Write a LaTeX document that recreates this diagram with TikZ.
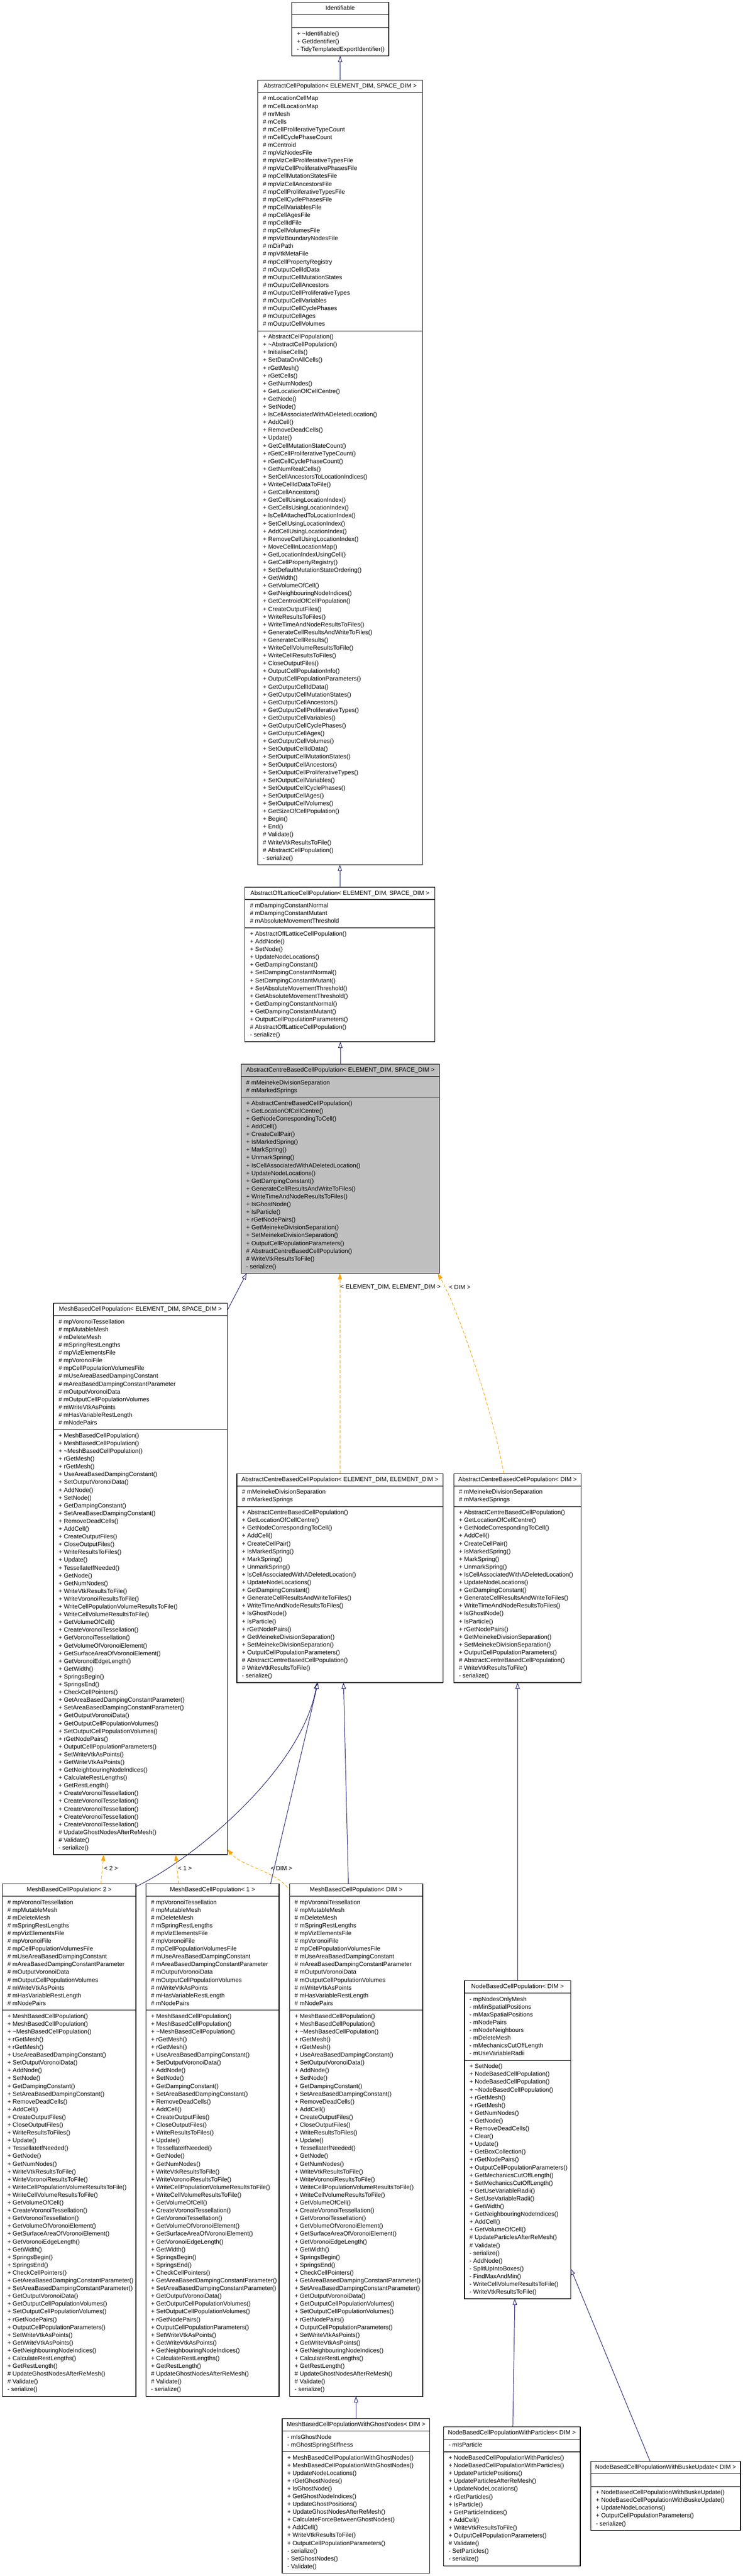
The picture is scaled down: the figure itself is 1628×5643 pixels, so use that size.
\documentclass[tikz,border=0pt]{standalone}
\usepackage{fontspec}
\setmainfont{Liberation Sans}
\usetikzlibrary{arrows.meta,calc}
\definecolor{navy}{RGB}{25,25,112}
\definecolor{dxorange}{RGB}{255,165,0}
\definecolor{dxgray}{RGB}{191,191,191}
\newcommand\umlfont{\fontsize{13.3}{17.04}\selectfont}
\tikzset{
 umlframe/.style={draw=black, line width=1.4pt, inner sep=0pt, outer sep=0pt, fill=white},
 umlsep/.style={draw=black, line width=1.4pt},
 umltext/.style={inner sep=0pt, font=\umlfont, text=black},
 inh/.style={draw=navy, line width=1.1pt, -{Triangle[length=13.3pt, width=9.3pt, fill=white, line width=1.1pt]}},
 tmpl/.style={draw=dxorange, line width=1.1pt, dash pattern=on 7pt off 4pt, -{Triangle[length=13.3pt, width=9.3pt]}},
}
% #1 name, #2 x left, #3 x right, #4 y top, #5 n attrs, #6 n methods, #7 extra style, #8 header
\newcommand\umlbox[8]{%
  \pgfmathsetmacro\uA{#4+27}%
  \pgfmathsetmacro\uB{\uA+max(#5,1)*17.04+11}%
  \pgfmathsetmacro\uC{\uB+#6*17.04+11}%
  \pgfmathsetmacro\uW{#3-#2}%
  \pgfmathsetmacro\uH{\uC-#4}%
  \pgfmathsetmacro\uM{(#2+#3)/2}%
  \xdef\uXL{#2}%
  \node[umlframe,#7,minimum width=\uW pt,minimum height=\uH pt,anchor=north west] (#1) at (#2,-#4) {};
  \draw[umlsep] (#2,-\uA) -- (#3,-\uA);
  \draw[umlsep] (#2,-\uB) -- (#3,-\uB);
  \node[umltext,anchor=base] (#1-h) at (\uM,-#4-17) {#8};
}
\newcommand\umlattrs[2]{\foreach \umlT [count=\umlI] in {#2} {\node[umltext,anchor=base west] (#1-a\umlI) at ({\uXL+11},{-(\uA+0.46+\umlI*17.04)}) {\umlT};}}
\newcommand\umlmeths[2]{\foreach \umlT [count=\umlI] in {#2} {\node[umltext,anchor=base west] (#1-m\umlI) at ({\uXL+11},{-(\uB+0.46+\umlI*17.04)}) {\umlT};}}
\newcommand\cbpmeths[1]{\umlmeths{#1}{+ AbstractCentreBasedCellPopulation(), + GetLocationOfCellCentre(), + GetNodeCorrespondingToCell(), + AddCell(), + CreateCellPair(), + IsMarkedSpring(), + MarkSpring(), + UnmarkSpring(), + IsCellAssociatedWithADeletedLocation(), + UpdateNodeLocations(), + GetDampingConstant(), + GenerateCellResultsAndWriteToFiles(), + WriteTimeAndNodeResultsToFiles(), + IsGhostNode(), + IsParticle(), + rGetNodePairs(), + GetMeinekeDivisionSeparation(), + SetMeinekeDivisionSeparation(), + OutputCellPopulationParameters(), \# AbstractCentreBasedCellPopulation(), \# WriteVtkResultsToFile(), - serialize()}}
\newcommand\cbpattrs[1]{\umlattrs{#1}{\# mMeinekeDivisionSeparation, \# mMarkedSprings}}
\newcommand\mbattrs[1]{\umlattrs{#1}{\# mpVoronoiTessellation, \# mpMutableMesh, \# mDeleteMesh, \# mSpringRestLengths, \# mpVizElementsFile, \# mpVoronoiFile, \# mpCellPopulationVolumesFile, \# mUseAreaBasedDampingConstant, \# mAreaBasedDampingConstantParameter, \# mOutputVoronoiData, \# mOutputCellPopulationVolumes, \# mWriteVtkAsPoints, \# mHasVariableRestLength, \# mNodePairs}}
\newcommand\mbmeths[1]{\umlmeths{#1}{+ MeshBasedCellPopulation(), + MeshBasedCellPopulation(), + \textasciitilde MeshBasedCellPopulation(), + rGetMesh(), + rGetMesh(), + UseAreaBasedDampingConstant(), + SetOutputVoronoiData(), + AddNode(), + SetNode(), + GetDampingConstant(), + SetAreaBasedDampingConstant(), + RemoveDeadCells(), + AddCell(), + CreateOutputFiles(), + CloseOutputFiles(), + WriteResultsToFiles(), + Update(), + TessellateIfNeeded(), + GetNode(), + GetNumNodes(), + WriteVtkResultsToFile(), + WriteVoronoiResultsToFile(), + WriteCellPopulationVolumeResultsToFile(), + WriteCellVolumeResultsToFile(), + GetVolumeOfCell(), + CreateVoronoiTessellation(), + GetVoronoiTessellation(), + GetVolumeOfVoronoiElement(), + GetSurfaceAreaOfVoronoiElement(), + GetVoronoiEdgeLength(), + GetWidth(), + SpringsBegin(), + SpringsEnd(), + CheckCellPointers(), + GetAreaBasedDampingConstantParameter(), + SetAreaBasedDampingConstantParameter(), + GetOutputVoronoiData(), + GetOutputCellPopulationVolumes(), + SetOutputCellPopulationVolumes(), + rGetNodePairs(), + OutputCellPopulationParameters(), + SetWriteVtkAsPoints(), + GetWriteVtkAsPoints(), + GetNeighbouringNodeIndices(), + CalculateRestLengths(), + GetRestLength(), \# UpdateGhostNodesAfterReMesh(), \# Validate(), - serialize()}}
\begin{document}
\begin{tikzpicture}[x=1pt,y=1pt]
\fill[white] (0,0) rectangle (1628,-5643);
\useasboundingbox (0,0) rectangle (1628,-5643);

% Identifiable
\umlbox{ident}{639.5}{852}{5.5}{0}{3}{}{Identifiable}
\umlmeths{ident}{+ \textasciitilde Identifiable(), + GetIdentifier(), - TidyTemplatedExportIdentifier()}

% AbstractCellPopulation
\umlbox{acp}{565.2}{926}{175.5}{30}{68}{}{AbstractCellPopulation< ELEMENT\_DIM, SPACE\_DIM >}
\umlattrs{acp}{\# mLocationCellMap, \# mCellLocationMap, \# mrMesh, \# mCells, \# mCellProliferativeTypeCount, \# mCellCyclePhaseCount, \# mCentroid, \# mpVizNodesFile, \# mpVizCellProliferativeTypesFile, \# mpVizCellProliferativePhasesFile, \# mpCellMutationStatesFile, \# mpVizCellAncestorsFile, \# mpCellProliferativeTypesFile, \# mpCellCyclePhasesFile, \# mpCellVariablesFile, \# mpCellAgesFile, \# mpCellIdFile, \# mpCellVolumesFile, \# mpVizBoundaryNodesFile, \# mDirPath, \# mpVtkMetaFile, \# mpCellPropertyRegistry, \# mOutputCellIdData, \# mOutputCellMutationStates, \# mOutputCellAncestors, \# mOutputCellProliferativeTypes, \# mOutputCellVariables, \# mOutputCellCyclePhases, \# mOutputCellAges, \# mOutputCellVolumes}
\umlmeths{acp}{+ AbstractCellPopulation(), + \textasciitilde AbstractCellPopulation(), + InitialiseCells(), + SetDataOnAllCells(), + rGetMesh(), + rGetCells(), + GetNumNodes(), + GetLocationOfCellCentre(), + GetNode(), + SetNode(), + IsCellAssociatedWithADeletedLocation(), + AddCell(), + RemoveDeadCells(), + Update(), + GetCellMutationStateCount(), + rGetCellProliferativeTypeCount(), + rGetCellCyclePhaseCount(), + GetNumRealCells(), + SetCellAncestorsToLocationIndices(), + WriteCellIdDataToFile(), + GetCellAncestors(), + GetCellUsingLocationIndex(), + GetCellsUsingLocationIndex(), + IsCellAttachedToLocationIndex(), + SetCellUsingLocationIndex(), + AddCellUsingLocationIndex(), + RemoveCellUsingLocationIndex(), + MoveCellInLocationMap(), + GetLocationIndexUsingCell(), + GetCellPropertyRegistry(), + SetDefaultMutationStateOrdering(), + GetWidth(), + GetVolumeOfCell(), + GetNeighbouringNodeIndices(), + GetCentroidOfCellPopulation(), + CreateOutputFiles(), + WriteResultsToFiles(), + WriteTimeAndNodeResultsToFiles(), + GenerateCellResultsAndWriteToFiles(), + GenerateCellResults(), + WriteCellVolumeResultsToFile(), + WriteCellResultsToFiles(), + CloseOutputFiles(), + OutputCellPopulationInfo(), + OutputCellPopulationParameters(), + GetOutputCellIdData(), + GetOutputCellMutationStates(), + GetOutputCellAncestors(), + GetOutputCellProliferativeTypes(), + GetOutputCellVariables(), + GetOutputCellCyclePhases(), + GetOutputCellAges(), + GetOutputCellVolumes(), + SetOutputCellIdData(), + SetOutputCellMutationStates(), + SetOutputCellAncestors(), + SetOutputCellProliferativeTypes(), + SetOutputCellVariables(), + SetOutputCellCyclePhases(), + SetOutputCellAges(), + SetOutputCellVolumes(), + GetSizeOfCellPopulation(), + Begin(), + End(), \# Validate(), \# WriteVtkResultsToFile(), \# AbstractCellPopulation(), - serialize()}

% AbstractOffLatticeCellPopulation
\umlbox{offl}{536.8}{953.2}{1943.4}{3}{14}{}{AbstractOffLatticeCellPopulation< ELEMENT\_DIM, SPACE\_DIM >}
\umlattrs{offl}{\# mDampingConstantNormal, \# mDampingConstantMutant, \# mAbsoluteMovementThreshold}
\umlmeths{offl}{+ AbstractOffLatticeCellPopulation(), + AddNode(), + SetNode(), + UpdateNodeLocations(), + GetDampingConstant(), + SetDampingConstantNormal(), + SetDampingConstantMutant(), + SetAbsoluteMovementThreshold(), + GetAbsoluteMovementThreshold(), + GetDampingConstantNormal(), + GetDampingConstantMutant(), + OutputCellPopulationParameters(), \# AbstractOffLatticeCellPopulation(), - serialize()}

% AbstractCentreBasedCellPopulation (current class, grey)
\umlbox{gray}{528.5}{963.6}{2331.5}{2}{22}{fill=dxgray}{AbstractCentreBasedCellPopulation< ELEMENT\_DIM, SPACE\_DIM >}
\cbpattrs{gray}
\cbpmeths{gray}

% MeshBasedCellPopulation< ELEMENT_DIM, SPACE_DIM >
\umlbox{mes}{117.3}{498.4}{2855.1}{14}{54}{}{MeshBasedCellPopulation< ELEMENT\_DIM, SPACE\_DIM >}
\mbattrs{mes}
\umlmeths{mes}{+ MeshBasedCellPopulation(), + MeshBasedCellPopulation(), + \textasciitilde MeshBasedCellPopulation(), + rGetMesh(), + rGetMesh(), + UseAreaBasedDampingConstant(), + SetOutputVoronoiData(), + AddNode(), + SetNode(), + GetDampingConstant(), + SetAreaBasedDampingConstant(), + RemoveDeadCells(), + AddCell(), + CreateOutputFiles(), + CloseOutputFiles(), + WriteResultsToFiles(), + Update(), + TessellateIfNeeded(), + GetNode(), + GetNumNodes(), + WriteVtkResultsToFile(), + WriteVoronoiResultsToFile(), + WriteCellPopulationVolumeResultsToFile(), + WriteCellVolumeResultsToFile(), + GetVolumeOfCell(), + CreateVoronoiTessellation(), + GetVoronoiTessellation(), + GetVolumeOfVoronoiElement(), + GetSurfaceAreaOfVoronoiElement(), + GetVoronoiEdgeLength(), + GetWidth(), + SpringsBegin(), + SpringsEnd(), + CheckCellPointers(), + GetAreaBasedDampingConstantParameter(), + SetAreaBasedDampingConstantParameter(), + GetOutputVoronoiData(), + GetOutputCellPopulationVolumes(), + SetOutputCellPopulationVolumes(), + rGetNodePairs(), + OutputCellPopulationParameters(), + SetWriteVtkAsPoints(), + GetWriteVtkAsPoints(), + GetNeighbouringNodeIndices(), + CalculateRestLengths(), + GetRestLength(), + CreateVoronoiTessellation(), + CreateVoronoiTessellation(), + CreateVoronoiTessellation(), + CreateVoronoiTessellation(), + CreateVoronoiTessellation(), \# UpdateGhostNodesAfterReMesh(), \# Validate(), - serialize()}

% AbstractCentreBasedCellPopulation< ELEMENT_DIM, ELEMENT_DIM >
\umlbox{cbpdd}{519.2}{970.8}{3228.1}{2}{22}{}{AbstractCentreBasedCellPopulation< ELEMENT\_DIM, ELEMENT\_DIM >}
\cbpattrs{cbpdd}
\cbpmeths{cbpdd}

% AbstractCentreBasedCellPopulation< DIM >
\umlbox{cbpd}{994.7}{1274}{3228.1}{2}{22}{}{AbstractCentreBasedCellPopulation< DIM >}
\cbpattrs{cbpd}
\cbpmeths{cbpd}

% MeshBasedCellPopulation< 2 >, < 1 >, < DIM >
\umlbox{mb2}{5.2}{298}{4126.8}{14}{49}{}{MeshBasedCellPopulation< 2 >}
\mbattrs{mb2}
\mbmeths{mb2}
\umlbox{mb1}{319.8}{611.6}{4126.8}{14}{49}{}{MeshBasedCellPopulation< 1 >}
\mbattrs{mb1}
\mbmeths{mb1}
\umlbox{mbd}{634.6}{926.5}{4126.8}{14}{49}{}{MeshBasedCellPopulation< DIM >}
\mbattrs{mbd}
\mbmeths{mbd}

% NodeBasedCellPopulation< DIM >
\umlbox{nb}{1018}{1251}{4339.2}{8}{30}{}{NodeBasedCellPopulation< DIM >}
\umlattrs{nb}{- mpNodesOnlyMesh, - mMinSpatialPositions, - mMaxSpatialPositions, - mNodePairs, - mNodeNeighbours, - mDeleteMesh, - mMechanicsCutOffLength, - mUseVariableRadii}
\umlmeths{nb}{+ SetNode(), + NodeBasedCellPopulation(), + NodeBasedCellPopulation(), + \textasciitilde NodeBasedCellPopulation(), + rGetMesh(), + rGetMesh(), + GetNumNodes(), + GetNode(), + RemoveDeadCells(), + Clear(), + Update(), + GetBoxCollection(), + rGetNodePairs(), + OutputCellPopulationParameters(), + GetMechanicsCutOffLength(), + SetMechanicsCutOffLength(), + GetUseVariableRadii(), + SetUseVariableRadii(), + GetWidth(), + GetNeighbouringNodeIndices(), + AddCell(), + GetVolumeOfCell(), \# UpdateParticlesAfterReMesh(), \# Validate(), - serialize(), - AddNode(), - SplitUpIntoBoxes(), - FindMaxAndMin(), - WriteCellVolumeResultsToFile(), - WriteVtkResultsToFile()}

% MeshBasedCellPopulationWithGhostNodes< DIM >
\umlbox{gn}{618.6}{942.2}{5298.3}{2}{15}{}{MeshBasedCellPopulationWithGhostNodes< DIM >}
\umlattrs{gn}{- mIsGhostNode, - mGhostSpringStiffness}
\umlmeths{gn}{+ MeshBasedCellPopulationWithGhostNodes(), + MeshBasedCellPopulationWithGhostNodes(), + UpdateNodeLocations(), + rGetGhostNodes(), + IsGhostNode(), + GetGhostNodeIndices(), + UpdateGhostPositions(), + UpdateGhostNodesAfterReMesh(), + CalculateForceBetweenGhostNodes(), + AddCell(), + WriteVtkResultsToFile(), + OutputCellPopulationParameters(), - serialize(), - SetGhostNodes(), - Validate()}

% NodeBasedCellPopulationWithParticles< DIM >
\umlbox{wp}{972.1}{1271.9}{5316}{1}{14}{}{NodeBasedCellPopulationWithParticles< DIM >}
\umlattrs{wp}{- mIsParticle}
\umlmeths{wp}{+ NodeBasedCellPopulationWithParticles(), + NodeBasedCellPopulationWithParticles(), + UpdateParticlePositions(), + UpdateParticlesAfterReMesh(), + UpdateNodeLocations(), + rGetParticles(), + IsParticle(), + GetParticleIndices(), + AddCell(), + WriteVtkResultsToFile(), + OutputCellPopulationParameters(), \# Validate(), - SetParticles(), - serialize()}

% NodeBasedCellPopulationWithBuskeUpdate< DIM >
\umlbox{bu}{1295}{1623}{5391.7}{0}{5}{}{NodeBasedCellPopulationWithBuskeUpdate< DIM >}
\umlmeths{bu}{+ NodeBasedCellPopulationWithBuskeUpdate(), + NodeBasedCellPopulationWithBuskeUpdate(), + UpdateNodeLocations(), + OutputCellPopulationParameters(), - serialize()}

% ---------- connectors ----------
\draw[inh] (acp.north) -- (acp.north |- ident.south);
\draw[inh] (offl.north) -- (offl.north |- acp.south);
\draw[inh] (gray.north) -- (gray.north |- offl.south);
\draw[inh] ([yshift=-15pt]mes.north east) -- ([xshift=12pt]gray.south west);
\draw[tmpl] (cbpdd.north) -- (cbpdd.north |- gray.south);
\draw[tmpl] ([xshift=-30.35pt]cbpd.north) .. controls (1085,-3110) and (1010,-2880) .. ([xshift=-4pt]gray.south east);
\draw[inh] ([yshift=-6pt]mb2.north east) .. controls (420,-4075) and (660,-3880) .. ([xshift=-50pt]cbpdd.south);
\draw[inh] ([xshift=127.3pt]mb1.north) -- ([xshift=-48pt]cbpdd.south);
\draw[inh] ([xshift=-17pt]mbd.north) -- ([xshift=8pt]cbpdd.south);
\draw[tmpl] ([xshift=69.4pt]mb2.north) -- ([xshift=-80.5pt]mes.south);
\draw[tmpl] ([xshift=-74.2pt]mb1.north) -- ([xshift=77.4pt]mes.south);
\draw[tmpl] ([xshift=-4pt,yshift=-8pt]mbd.north west) .. controls (600,-4098) and (530,-4088) .. ([yshift=12pt]mes.south east);
\draw[inh] (nb.north) -- (nb.north |- cbpd.south);
\draw[inh] ([xshift=2pt]wp.north) -- ([xshift=-6pt]nb.south);
\draw[inh] ([xshift=-34pt]bu.north) -- ([yshift=66pt]nb.south east);
\draw[inh] (gn.north) -- (gn.north |- mbd.south);

% ---------- edge labels ----------
\node[umltext,anchor=west] (lbl-dd) at (746,-2819.4) {< ELEMENT\_DIM, ELEMENT\_DIM >};
\node[umltext,anchor=west] (lbl-d) at (984,-2819.4) {< DIM >};
\node[umltext,anchor=west] (lbl-2) at (228,-4092.5) {< 2 >};
\node[umltext,anchor=west] (lbl-1) at (390,-4092.5) {< 1 >};
\node[umltext,anchor=west] (lbl-md) at (593,-4092.5) {< DIM >};
\end{tikzpicture}
\end{document}
